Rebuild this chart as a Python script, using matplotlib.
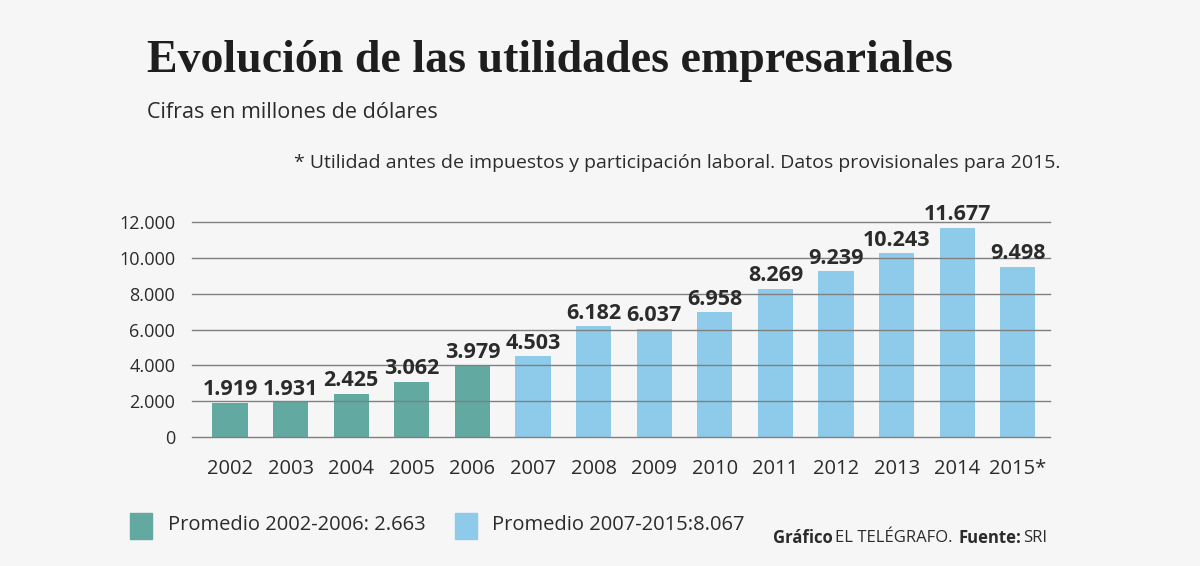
import matplotlib
matplotlib.use("Agg")
import matplotlib.pyplot as plt
from matplotlib.patches import Rectangle

years = ["2002", "2003", "2004", "2005", "2006", "2007", "2008", "2009",
         "2010", "2011", "2012", "2013", "2014", "2015*"]
values = [1919, 1931, 2425, 3062, 3979, 4503, 6182, 6037, 6958, 8269,
          9239, 10243, 11677, 9498]
labels = ["1.919", "1.931", "2.425", "3.062", "3.979", "4.503", "6.182", "6.037",
          "6.958", "8.269", "9.239", "10.243", "11.677", "9.498"]
yticks = [0, 2000, 4000, 6000, 8000, 10000, 12000]
yticklabels = ["0", "2.000", "4.000", "6.000", "8.000", "10.000", "12.000"]
legend_labels = ["Promedio 2002-2006: 2.663", "Promedio 2007-2015:8.067"]

TEAL = "#62a9a2"
BLUE = "#8ecbeb"
BG = "#f6f6f6"
TXT = "#2b2b2b"

colors = [TEAL if i < 5 else BLUE for i in range(len(values))]

fig = plt.figure(figsize=(12, 5.66), dpi=100, facecolor=BG)
ax = fig.add_axes([192/1200, 1-437/566, (1050-192)/1200, (437-222)/566])
ax.set_facecolor(BG)

x = list(range(len(values)))
ax.bar(x, values, width=0.58, color=colors, zorder=1)
ax.set_xlim(-0.627, 13.53)
ax.set_ylim(0, 12000)
ax.set_yticks(yticks)
ax.set_yticklabels(yticklabels)
ax.set_xticks(x)
ax.set_xticklabels(years)
for yv in yticks:
    ax.axhline(yv, color="#808080", lw=1.0, zorder=2, clip_on=False)
for s in ax.spines.values():
    s.set_visible(False)
ax.tick_params(axis="both", length=0, labelcolor=TXT)
ax.tick_params(axis="y", labelsize=13, pad=12)
ax.tick_params(axis="x", labelsize=14.5, pad=16)
for lab in ax.get_yticklabels() + ax.get_xticklabels():
    lab.set_fontfamily("Open Sans")

for xi, v, l in zip(x, values, labels):
    ax.text(xi, v + 150, l, ha="center", va="bottom", fontsize=15.5,
            fontweight="bold", color=TXT, family="Open Sans", clip_on=False)

fig.text(147/1200, 1-61/566, "Evolución de las utilidades empresariales",
         fontsize=33, fontweight="bold", family="Liberation Serif", color="#1e1e1e",
         va="center", ha="left")
fig.text(147/1200, 1-113/566, "Cifras en millones de dólares",
         fontsize=15.5, family="Open Sans", color=TXT, va="center", ha="left")
fig.text(1060/1200, 1-163/566,
         "* Utilidad antes de impuestos y participación laboral. Datos provisionales para 2015.",
         fontsize=14, family="Open Sans", color=TXT, va="center", ha="right")

# legend
fig.patches.append(Rectangle((130/1200, 1-539/566), 22/1200, 26/566,
                             transform=fig.transFigure, color=TEAL))
fig.text(168/1200, 1-525/566, legend_labels[0], fontsize=14.5, family="Open Sans",
         color=TXT, va="center", ha="left")
fig.patches.append(Rectangle((455/1200, 1-539/566), 22/1200, 26/566,
                             transform=fig.transFigure, color=BLUE))
fig.text(492/1200, 1-525/566, legend_labels[1], fontsize=14.5, family="Open Sans",
         color=TXT, va="center", ha="left")

fig.text(773/1200, 1-538/566, "Gráfico", fontsize=12, fontweight="bold",
         family="Open Sans", color=TXT, va="center", ha="left")
fig.text(835/1200, 1-538/566, "EL TELÉGRAFO.", fontsize=12,
         family="Open Sans", color=TXT, va="center", ha="left")
fig.text(959/1200, 1-538/566, "Fuente:", fontsize=12, fontweight="bold",
         family="Open Sans", color=TXT, va="center", ha="left")
fig.text(1023/1200, 1-538/566, "SRI", fontsize=12,
         family="Open Sans", color=TXT, va="center", ha="left")

fig.savefig("out.png", dpi=100, facecolor=BG)
